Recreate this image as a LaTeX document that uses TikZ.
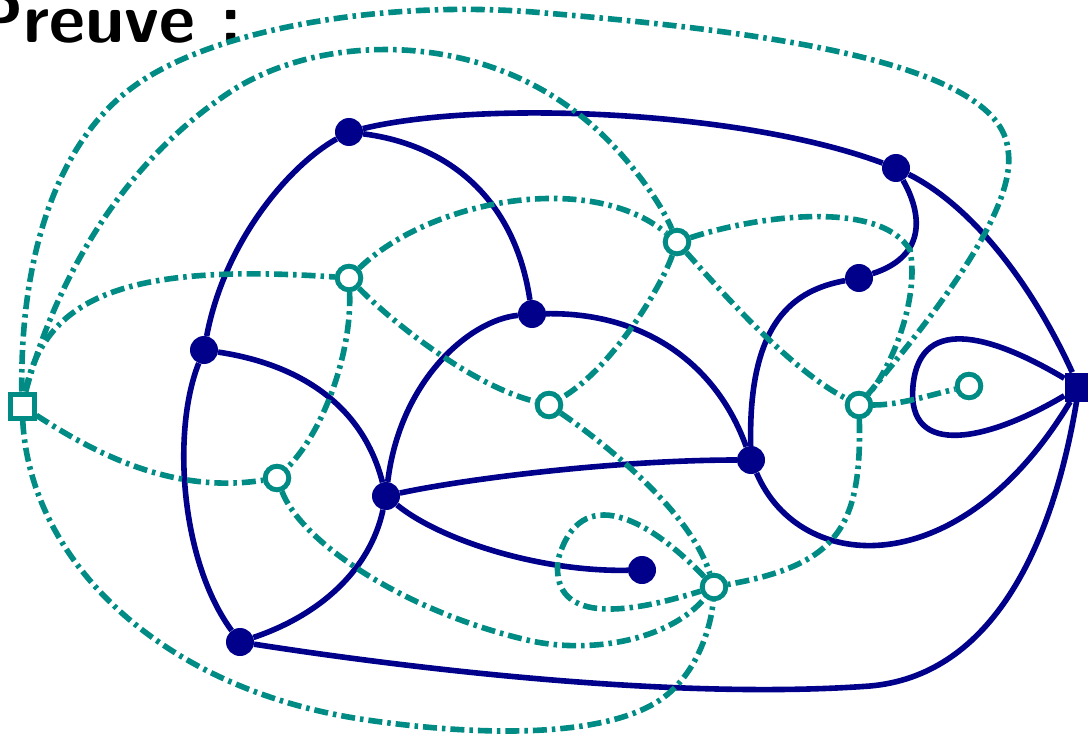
\documentclass[tikz,border=0pt]{standalone}
\usepackage{fontspec}
\definecolor{pnavy}{RGB}{0,0,139}
\definecolor{dteal}{RGB}{0,139,133}
\begin{document}
\begin{tikzpicture}[x=1pt,y=-1pt,
  pv/.style={circle,fill=pnavy,inner sep=0pt,minimum size=28pt},
  pvsq/.style={rectangle,fill=pnavy,inner sep=0pt,minimum size=29pt},
  dv/.style={circle,draw=dteal,line width=4.8pt,fill=white,inner sep=0pt,minimum size=23.5pt},
  dvsq/.style={rectangle,draw=dteal,line width=5pt,fill=white,inner sep=0pt,minimum size=24pt},
  pe/.style={draw=pnavy,line width=5.6pt},
  de/.style={draw=dteal,line width=5.6pt,dash pattern=on 14pt off 5pt on 3.5pt off 5pt},
  titlestyle/.style={anchor=base west,inner sep=0pt,font=\sffamily\bfseries\fontsize{70}{84}\selectfont}]
\useasboundingbox (0,0) rectangle (1088,741);
\clip (0,0) rectangle (1088,741);
\node[titlestyle] (title) at (-26,43) {Preuve :};
% primal vertices
\node[pv] (A) at (349,132) {};
\node[pv] (B) at (896,168) {};
\node[pv] (C) at (859,278) {};
\node[pv] (D) at (532,314) {};
\node[pv] (E) at (204,350) {};
\node[pv] (F) at (751,460) {};
\node[pv] (G) at (386,496) {};
\node[pv] (H) at (642,570) {};
\node[pv] (I) at (240,642) {};
\node[pvsq] (J) at (1079,387) {};
% primal edges
\draw[pe] (A) .. controls (480,100) and (740,110) .. (B);
\draw[pe] (A) .. controls (450,145) and (515,200) .. (D);
\draw[pe] (A) .. controls (290,165) and (225,240) .. (E);
\draw[pe] (B) .. controls (920,210) and (930,255) .. (C);
\draw[pe] (B) .. controls (970,205) and (1030,280) .. (J);
\draw[pe] (C) .. controls (795,290) and (748,320) .. (F);
\draw[pe] (D) .. controls (640,312) and (715,360) .. (F);
\draw[pe] (D) .. controls (470,320) and (400,380) .. (G);
\draw[pe] (E) .. controls (285,362) and (360,395) .. (G);
\draw[pe] (E) .. controls (172,430) and (180,560) .. (I);
\draw[pe] (G) .. controls (470,478) and (620,460) .. (F);
\draw[pe] (G) .. controls (440,540) and (540,572) .. (H);
\draw[pe] (G) .. controls (370,570) and (320,615) .. (I);
\draw[pe] (F) .. controls (800,575) and (960,585) .. (J);
\draw[pe] (J) .. controls (1000,340) and (920,310) .. (913,386) .. controls (906,460) and (990,440) .. (J);
\draw[pe] (I) .. controls (420,670) and (680,700) .. (870,686) .. controls (985,676) and (1050,560) .. (J);
% dual vertices
\node[dv] (a) at (349,278) {};
\node[dv] (b) at (677,242) {};
\node[dv] (c) at (549,405) {};
\node[dv] (d) at (859,405) {};
\node[dv] (e) at (969,386) {};
\node[dv] (f) at (277,478) {};
\node[dv] (g) at (714,587) {};
\node[dvsq] (s) at (22,406) {};
% dual edges
\draw[de] (s) .. controls (45,300) and (120,262) .. (a);
\draw[de] (s) .. controls (90,450) and (170,495) .. (f);
\draw[de] (s) .. controls (20,250) and (60,140) .. (133,87) .. controls (210,30) and (380,0) .. (533,12) .. controls (750,30) and (1000,60) .. (1008,150) .. controls (1018,210) and (930,320) .. (d);
\draw[de] (s) .. controls (50,300) and (110,170) .. (233,90) .. controls (320,35) and (470,30) .. (577,113) .. controls (620,145) and (660,200) .. (b);
\draw[de] (s) .. controls (30,560) and (160,690) .. (367,720) .. controls (470,735) and (600,740) .. (660,700) .. controls (700,673) and (712,620) .. (g);
\draw[de] (a) .. controls (430,200) and (590,170) .. (b);
\draw[de] (a) .. controls (390,320) and (470,385) .. (c);
\draw[de] (a) .. controls (352,350) and (325,430) .. (f);
\draw[de] (b) .. controls (660,290) and (610,370) .. (c);
\draw[de] (b) .. controls (720,290) and (790,370) .. (d);
\draw[de] (b) .. controls (760,215) and (880,200) .. (910,250) .. controls (920,300) and (890,370) .. (d);
\draw[de] (c) .. controls (600,440) and (690,510) .. (g);
\draw[de] (d) .. controls (900,405) and (930,395) .. (e);
\draw[de] (d) .. controls (862,530) and (835,565) .. (g);
\draw[de] (f) .. controls (300,540) and (400,610) .. (527,640) .. controls (590,655) and (670,640) .. (g);
\draw[de] (g) .. controls (650,520) and (580,480) .. (558,560) .. controls (550,630) and (640,610) .. (g);
% dual vertices drawn again on top of their edges
\node[dv] at (a) {};
\node[dv] at (b) {};
\node[dv] at (c) {};
\node[dv] at (d) {};
\node[dv] at (e) {};
\node[dv] at (f) {};
\node[dv] at (g) {};
\node[dvsq] at (s) {};
\end{tikzpicture}
\end{document}
